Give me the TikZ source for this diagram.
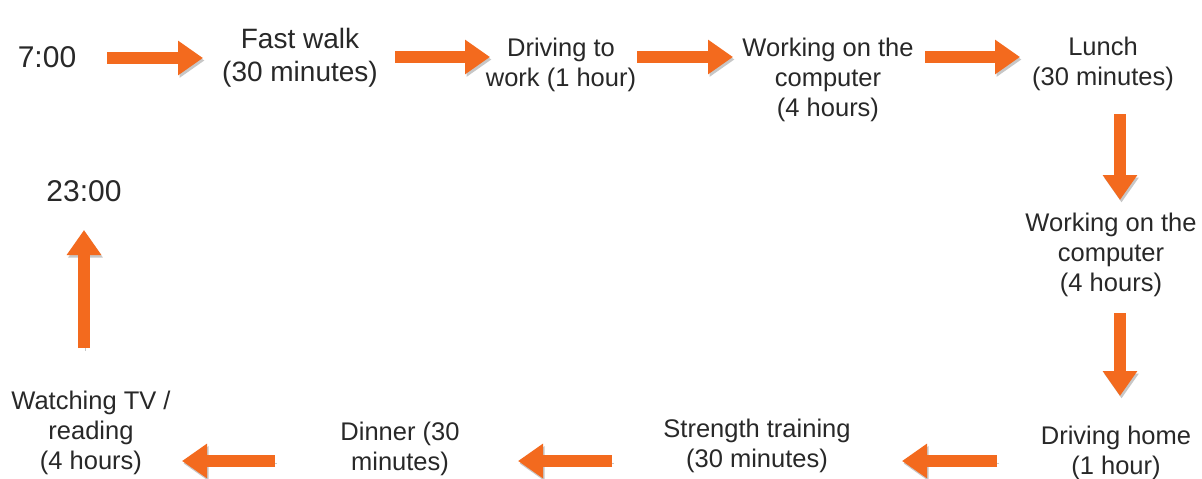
\documentclass[tikz,border=0pt]{standalone}
\usepackage{fontspec}
\setmainfont{Liberation Sans}
\usetikzlibrary{arrows.meta}
\definecolor{orng}{RGB}{243,106,30}
\definecolor{txt}{RGB}{40,40,40}
\tikzset{
  lbl/.style={font=\fontsize{25.5}{30}\selectfont, text=txt, align=center, inner sep=0pt},
  biglbl/.style={lbl, font=\fontsize{28}{33}\selectfont},
  tlbl/.style={font=\fontsize{30}{34}\selectfont, text=txt, inner sep=0pt},
  arr/.style={line width=12pt, draw=orng, -{Triangle[length=25pt,width=33pt]},
    preaction={draw=black!22, transform canvas={shift={(1.5pt,-2.5pt)}}}},
}
\begin{document}
\begin{tikzpicture}[x=1pt,y=-1pt]
\useasboundingbox[fill=white] (0,0) rectangle (1202,479);
% texts
\node[tlbl] (t7) at (47,57) {7:00};
\node[tlbl] (t23) at (84,191) {23:00};
\node[biglbl] (fast) at (300,58) {Fast walk\\(30 minutes)};
\node[lbl] (drive) at (561,65) {Driving to\\work (1 hour)};
\node[lbl] (work1) at (828,80) {Working on the\\computer\\(4 hours)};
\node[lbl] (lunch) at (1103,64) {Lunch\\(30 minutes)};
\node[lbl] (work2) at (1111,255) {Working on the\\computer\\(4 hours)};
\node[lbl] (home) at (1116,453) {Driving home\\(1 hour)};
\node[lbl] (strength) at (757,446) {Strength training\\(30 minutes)};
\node[lbl] (dinner) at (400,449) {Dinner (30\\minutes)};
\node[lbl] (tv) at (91,433) {Watching TV /\\reading\\(4 hours)};
% arrow end points
\coordinate (a1s) at (107,58);  \coordinate (a1e) at (203,58);
\coordinate (a2s) at (395,57);  \coordinate (a2e) at (490,57);
\coordinate (a3s) at (637,57);  \coordinate (a3e) at (733,57);
\coordinate (a4s) at (925,57);  \coordinate (a4e) at (1020,57);
\coordinate (a5s) at (1120,114); \coordinate (a5e) at (1120,200);
\coordinate (a6s) at (1120,313); \coordinate (a6e) at (1120,396);
\coordinate (a7s) at (997,461); \coordinate (a7e) at (902,461);
\coordinate (a8s) at (612,461); \coordinate (a8e) at (518,461);
\coordinate (a9s) at (275,461); \coordinate (a9e) at (182,461);
\coordinate (a10s) at (84,348); \coordinate (a10e) at (84,230);
% arrows
\foreach \i in {1,...,10} { \draw[arr] (a\i s) -- (a\i e); }
\end{tikzpicture}
\end{document}
